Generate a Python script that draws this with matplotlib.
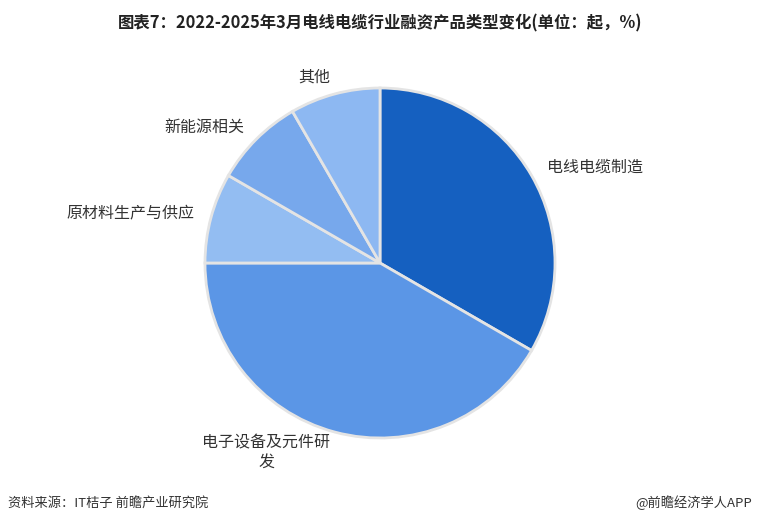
import matplotlib.pyplot as plt

plt.rcParams['font.family'] = ['Noto Sans CJK SC', 'DejaVu Sans']

# 融资产品类型（起）
labels = ['电线电缆制造', '电子设备及元件研\n发', '原材料生产与供应', '新能源相关', '其他']
counts = [4, 5, 1, 1, 1]
colors = ['#1560c0', '#5b96e6', '#93bdf2', '#77a8ec', '#8db8f2']

fig = plt.figure(figsize=(7.6, 5.24), dpi=100)
ax = fig.add_axes([0, 0, 1, 1])

cx, cy = 380, 261
wedges, texts = ax.pie(counts, labels=labels, colors=colors, startangle=90,
                       counterclock=False, center=(cx, cy), radius=175,
                       labeldistance=1.1, frame=True,
                       wedgeprops=dict(edgecolor='#e4e4e4', linewidth=2),
                       textprops=dict(fontsize=11.5, color='#333333'))
ax.set_xlim(0, 760)
ax.set_ylim(0, 524)
ax.set_aspect('auto')
ax.axis('off')

# pie picks alignment from absolute x, fix it relative to the centre
for t in texts:
    x, y = t.get_position()
    t.set_horizontalalignment('left' if x > cx else 'right')
texts[1].set_multialignment('center')
texts[1].set_position((texts[1].get_position()[0], texts[1].get_position()[1] - 4))

fig.text(0.5, 0.955, '图表7：2022-2025年3月电线电缆行业融资产品类型变化(单位：起，%)',
         ha='center', va='center', fontsize=11.8, fontweight='bold', color='#222222')
fig.text(0.01, 0.04, '资料来源：IT桔子 前瞻产业研究院', ha='left', va='center',
         fontsize=9.5, color='#333333')
fig.text(0.99, 0.04, '@前瞻经济学人APP', ha='right', va='center',
         fontsize=9.5, color='#333333')

fig.savefig('out.png', dpi=100)
